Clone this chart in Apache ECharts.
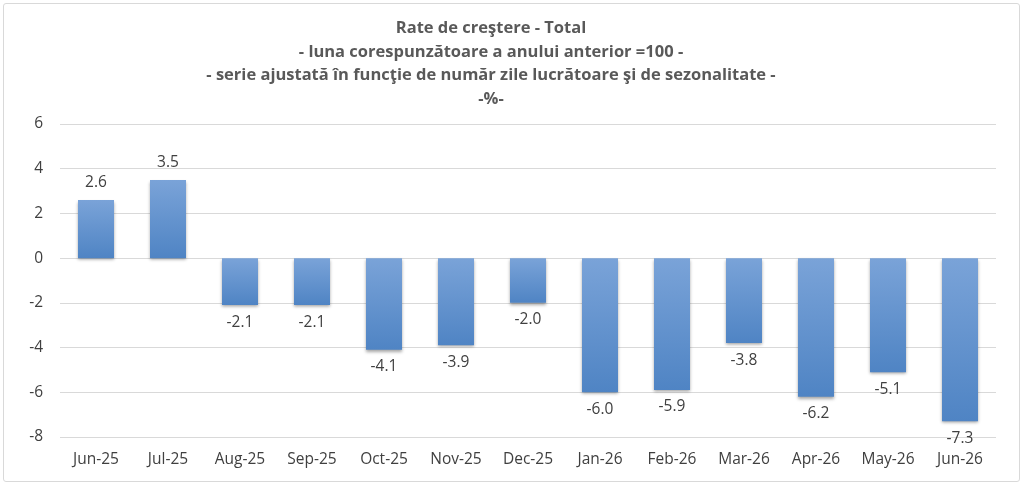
<!DOCTYPE html>
<html>
<head>
<meta charset="utf-8">
<script src="https://cdn.jsdelivr.net/npm/echarts@6/dist/echarts.min.js"></script>
<style>
  html, body { margin: 0; padding: 0; background: #fff; }
  #grafica { width: 1024px; height: 487px; }
  .marco { position: absolute; left: 3px; top: 3px; width: 1015px; height: 477px;
    border: 1px solid #d9d9d9; border-radius: 3px; pointer-events: none; }
</style>
</head>
<body>
<div id="grafica"></div>
<div class="marco"></div>
<script>
const luni = ["Jun-25", "Jul-25", "Aug-25", "Sep-25", "Oct-25", "Nov-25", "Dec-25",
  "Jan-26", "Feb-26", "Mar-26", "Apr-26", "May-26", "Jun-26"];
const rate = [2.6, 3.5, -2.1, -2.1, -4.1, -3.9, -2.0, -6.0, -5.9, -3.8, -6.2, -5.1, -7.3];
const titluri = [
  "Rate de creştere - Total",
  "- luna corespunzătoare a anului anterior =100 -",
  "- serie ajustată în funcţie de număr zile lucrătoare şi de sezonalitate -",
  "-%-",
];

// degradado de arriba (claro) a abajo (oscuro)
const culoare = new echarts.graphic.LinearGradient(0, 0, 0, 1, [
  { offset: 0, color: "#7aa3d8" },
  { offset: 1, color: "#4f84c4" },
]);

const option = {
  animation: false,
  title: {
    text: titluri.join("\n"),
    left: 486,
    top: 12,
    textAlign: "center",
    textStyle: {
      color: "#595959",
      fontWeight: "bold",
      fontSize: 16.5,
      lineHeight: 23.5,
      fontFamily: "Open Sans",
    },
  },
  grid: { left: 60, right: 28, top: 124, bottom: 50 },
  xAxis: {
    type: "category",
    data: luni,
    axisLine: { show: false },
    axisTick: { show: false },
    axisLabel: { color: "#404040", fontSize: 15.5, fontFamily: "Open Sans", margin: 15 },
  },
  yAxis: {
    type: "value",
    min: -8,
    max: 6,
    interval: 2,
    axisLabel: { color: "#404040", fontSize: 15.5, fontFamily: "Open Sans", margin: 17 },
    splitLine: { lineStyle: { color: "#d9d9d9" } },
  },
  series: [
    {
      type: "bar",
      barWidth: "50%",
      itemStyle: {
        color: culoare,
        shadowColor: "rgba(0,0,0,0.35)",
        shadowBlur: 3,
        shadowOffsetY: 2,
      },
      data: rate,
      label: {
        show: true,
        position: "outside",
        distance: 9,
        color: "#404040",
        fontSize: 15.5,
        fontFamily: "Open Sans",
        formatter: (p) => p.value.toFixed(1),
      },
    },
  ],
};

const myChart = echarts.init(document.querySelector("#grafica"));
myChart.setOption(option);
</script>
</body>
</html>
